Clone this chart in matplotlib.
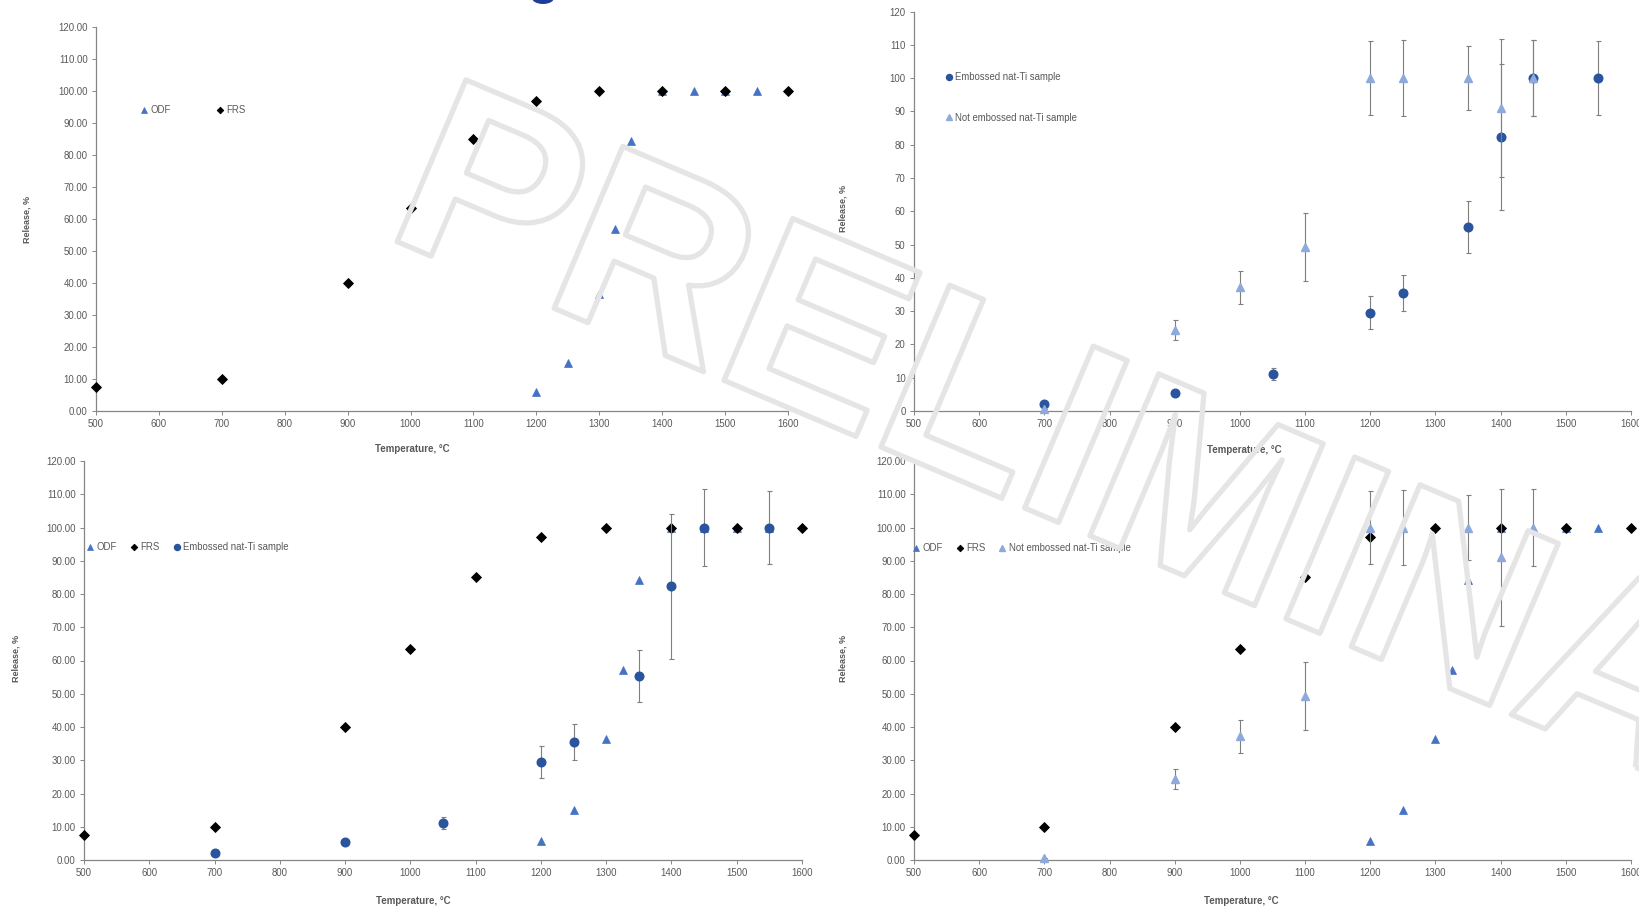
import matplotlib
matplotlib.use("Agg")
import matplotlib.pyplot as plt
import matplotlib.patheffects as pe
from matplotlib.patches import Ellipse
from matplotlib.ticker import MultipleLocator, FormatStrFormatter
from matplotlib import font_manager

# ---- data -------------------------------------------------------------
temp_odf = [1200, 1250, 1300, 1325, 1350, 1400, 1450, 1500, 1550]
rel_odf = [5.8, 15.0, 36.5, 57.0, 84.3, 100.0, 100.0, 100.0, 100.0]

temp_frs = [500, 700, 900, 1000, 1100, 1200, 1300, 1400, 1500, 1600]
rel_frs = [7.5, 10.0, 40.0, 63.5, 85.0, 97.0, 100.0, 100.0, 100.0, 100.0]

temp_emb = [700, 900, 1050, 1200, 1250, 1350, 1400, 1450, 1550]
rel_emb = [2.0, 5.3, 11.0, 29.5, 35.5, 55.3, 82.3, 100.0, 100.0]
err_emb = [0.0, 0.0, 1.8, 4.9, 5.5, 7.8, 21.9, 11.5, 11.0]

temp_nemb = [700, 900, 1000, 1100, 1200, 1250, 1350, 1400, 1450]
rel_nemb = [0.5, 24.3, 37.2, 49.3, 100.0, 100.0, 100.0, 91.0, 100.0]
err_nemb = [0.0, 3.0, 5.0, 10.3, 11.0, 11.3, 9.7, 20.6, 11.5]

labels = {"odf": "ODF", "frs": "FRS",
          "emb": "Embossed nat-Ti sample", "nemb": "Not embossed nat-Ti sample"}
xlabel = "Temperature, \u00b0C"
ylabel = "Release, %"
watermark = "PRELIMINARY"

# ---- style ------------------------------------------------------------
C_ODF = "#4472C4"
C_FRS = "#000000"
C_EMB = "#2A549C"
C_NEMB = "#8EA9DB"
C_ERR = "#7F7F7F"
SPINE = "#868686"
TXT = "#595959"

available = {f.name for f in font_manager.fontManager.ttflist}
NARROW = "Liberation Sans Narrow" if "Liberation Sans Narrow" in available else "Liberation Sans"
WIDE = "Liberation Sans"
TICK_FS = 6.9 if NARROW == "Liberation Sans" else 7.4

W, H = 1639, 909
fig = plt.figure(figsize=(W / 100, H / 100), dpi=100)
fig.patch.set_facecolor("white")


def px_axes(left, right, top, bottom):
    return fig.add_axes([left / W, 1 - bottom / H, (right - left) / W, (bottom - top) / H])


def style(ax, fmt, xl, yl):
    ax.set_xlim(500, 1600)
    ax.set_ylim(0, 120)
    ax.xaxis.set_major_locator(MultipleLocator(100))
    ax.yaxis.set_major_locator(MultipleLocator(10))
    ax.yaxis.set_major_formatter(FormatStrFormatter(fmt))
    for s in ("top", "right"):
        ax.spines[s].set_visible(False)
    for s in ("left", "bottom"):
        ax.spines[s].set_color(SPINE)
        ax.spines[s].set_linewidth(0.9)
    ax.tick_params(direction="out", length=3, width=0.7, color=SPINE,
                   labelsize=TICK_FS, labelcolor=TXT, pad=3)
    for t in ax.get_xticklabels() + ax.get_yticklabels():
        t.set_fontfamily(NARROW)
    ax.set_xlabel(xlabel, fontsize=7.0, fontweight="bold", color=TXT, family=NARROW)
    ax.set_ylabel(ylabel, fontsize=6.5, fontweight="bold", color=TXT, family=WIDE)
    ax.xaxis.set_label_coords(*xl)
    ax.yaxis.set_label_coords(*yl)


MS = 6.2


def plot_odf(ax):
    ln, = ax.plot(temp_odf, rel_odf, ls="none", marker="^", ms=MS, color=C_ODF,
                  mec=C_ODF, mew=0.5, clip_on=False, zorder=3)
    return ln


def plot_frs(ax):
    ln, = ax.plot(temp_frs, rel_frs, ls="none", marker="D", ms=4.8, color=C_FRS,
                  mec=C_FRS, mew=0.6, clip_on=False, zorder=4)
    return ln


def plot_emb(ax):
    c = ax.errorbar(temp_emb, rel_emb, yerr=err_emb, ls="none", marker="o", ms=MS,
                    color=C_EMB, mec=C_EMB, ecolor=C_ERR, elinewidth=0.8,
                    capsize=1.8, capthick=0.8, zorder=5)
    c[0].set_clip_on(False)
    return c[0]


def plot_nemb(ax):
    c = ax.errorbar(temp_nemb, rel_nemb, yerr=err_nemb, ls="none", marker="^", ms=MS,
                    color=C_NEMB, mec=C_NEMB, ecolor=C_ERR, elinewidth=0.8,
                    capsize=1.8, capthick=0.8, zorder=6)
    c[0].set_clip_on(False)
    return c[0]


def legend(ax, handles, texts, anchor, ncol, colsp, labsp=0.5):
    lg = ax.legend(handles, texts, loc="center left", bbox_to_anchor=anchor,
                   ncol=ncol, frameon=False, borderpad=0, borderaxespad=0,
                   handlelength=0.8, handletextpad=0.3, columnspacing=colsp,
                   labelspacing=labsp, markerscale=0.7,
                   prop={"family": NARROW, "size": TICK_FS})
    for t in lg.get_texts():
        t.set_color(TXT)
    return lg


# ---- top left: ODF and FRS ---------------------------------------------
ax1 = px_axes(96, 788, 27, 411)
h_odf = plot_odf(ax1)
h_frs = plot_frs(ax1)
style(ax1, "%.2f", (0.457, -0.086), (-0.0925, 0.5))
legend(ax1, [h_odf, h_frs], [labels["odf"], labels["frs"]], (0.0636, 0.784), 2, 4.7)

# ---- top right: embossed vs not embossed --------------------------------
ax2 = px_axes(914, 1631, 11.5, 411)
h_emb = plot_emb(ax2)
h_nemb = plot_nemb(ax2)
style(ax2, "%d", (0.46, -0.085), (-0.0934, 0.506))
legend(ax2, [h_emb, h_nemb], [labels["emb"], labels["nemb"]], (0.043, 0.785), 1, 1.0, 3.2)

# ---- bottom left: ODF, FRS, embossed -----------------------------------
ax3 = px_axes(84, 802, 461, 860)
h1 = plot_odf(ax3)
h2 = plot_frs(ax3)
h3 = plot_emb(ax3)
style(ax3, "%.2f", (0.458, -0.09), (-0.088, 0.504))
legend(ax3, [h1, h2, h3], [labels["odf"], labels["frs"], labels["emb"]], (0.003, 0.784), 3, 1.35)

# ---- bottom right: ODF, FRS, not embossed ------------------------------
ax4 = px_axes(914, 1631, 461, 860)
g1 = plot_odf(ax4)
g2 = plot_frs(ax4)
g3 = plot_nemb(ax4)
style(ax4, "%.2f", (0.457, -0.09), (-0.093, 0.504))
legend(ax4, [g1, g2, g3], [labels["odf"], labels["frs"], labels["nemb"]], (-0.003, 0.782), 3, 1.35)

# ---- page decorations ------------------------------------------------------
# edge of a dark-blue logo glyph peeking in at the top border
fig.patches.append(Ellipse((543 / W, 1 + 2 / H), 22 / W, 12 / H,
                           transform=fig.transFigure, facecolor="#1F3C99",
                           edgecolor="none", zorder=1))

# hollow outlined watermark across the whole sheet
fig.text(381.5 / W, 1 - 235 / H, watermark, fontsize=184, family=WIDE,
         fontweight="bold", rotation=-23.0, rotation_mode="anchor",
         ha="left", va="baseline", color="none", zorder=20,
         path_effects=[pe.Stroke(linewidth=3.8, foreground="#e5e5e5")])

fig.savefig("out.png", dpi=100, facecolor="white")
